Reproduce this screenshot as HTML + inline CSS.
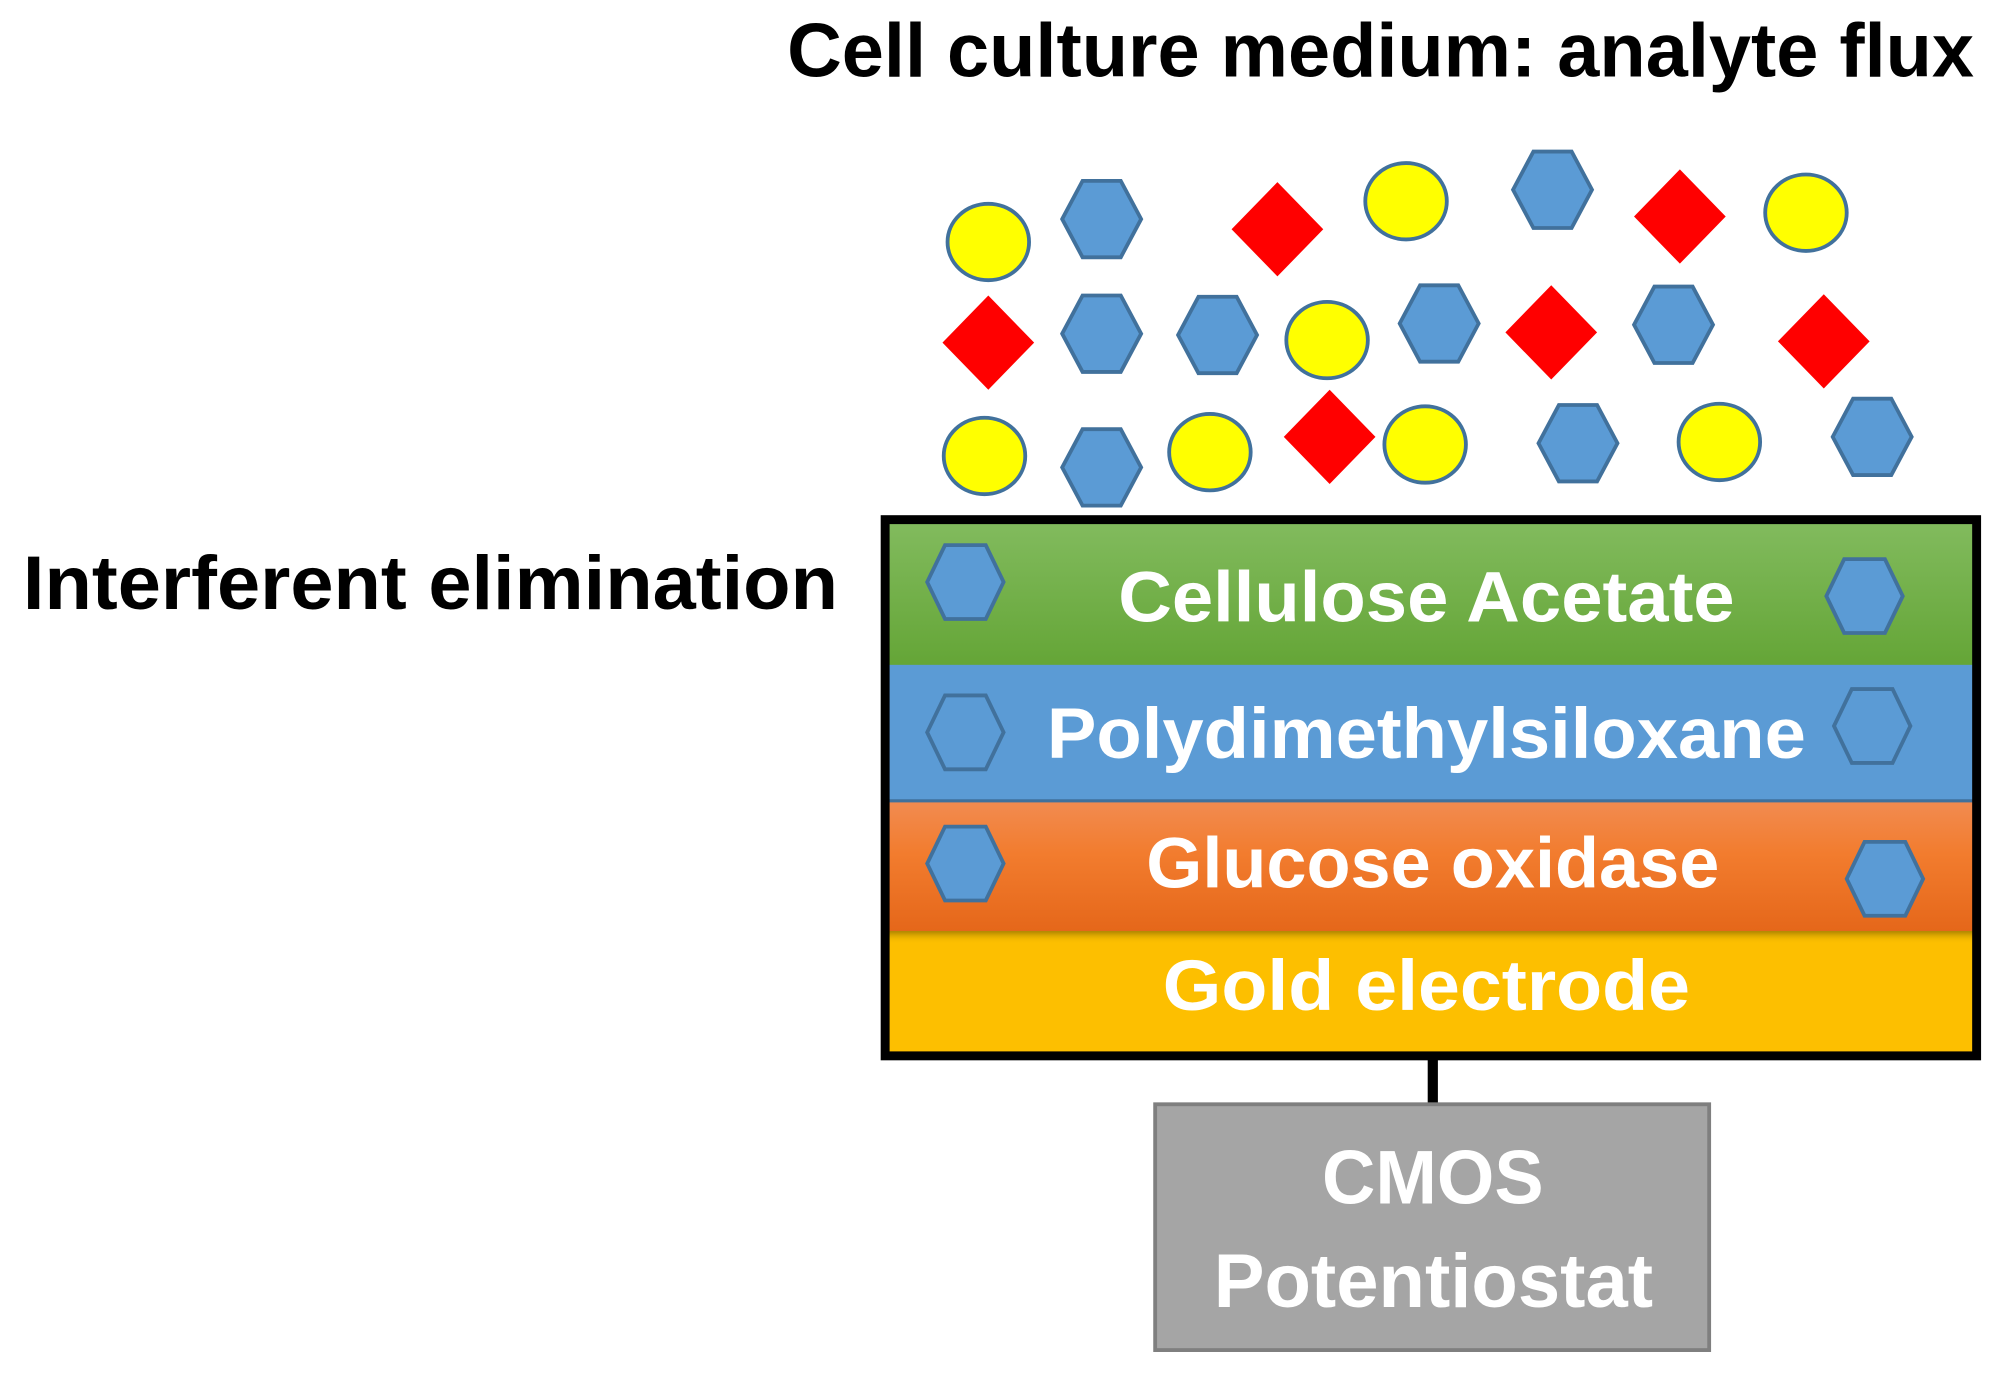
<!DOCTYPE html>
<html><head><meta charset="utf-8"><style>
html,body{margin:0;padding:0;background:#fff;}
svg{display:block;}
text{font-family:"Liberation Sans",sans-serif;font-weight:bold;}
</style></head><body>
<svg width="1997" height="1373" viewBox="0 0 1568 1078" preserveAspectRatio="none" xmlns="http://www.w3.org/2000/svg">
<defs>
<linearGradient id="g" x1="0" y1="0" x2="0" y2="1"><stop offset="0" stop-color="#82bb5e"/><stop offset="1" stop-color="#64a536"/></linearGradient>
<linearGradient id="o" x1="0" y1="0" x2="0" y2="1"><stop offset="0" stop-color="#f28b50"/><stop offset="0.4" stop-color="#f27c2e"/><stop offset="1" stop-color="#e5671a"/></linearGradient>
<linearGradient id="sh" x1="0" y1="0" x2="0" y2="1"><stop offset="0" stop-color="#8a6a00" stop-opacity="0.7"/><stop offset="1" stop-color="#fdbf00" stop-opacity="0"/></linearGradient>
<polygon id="hx" points="-31,0 -15,-30 15,-30 31,0 15,30 -15,30" stroke="#41719c" stroke-width="3"/>
<polygon id="hl" points="-30,0 -16,-29 16,-29 30,0 16,29 -16,29" stroke="#41719c" stroke-width="3"/>
<ellipse id="el" rx="32" ry="30" fill="#ffff00" stroke="#41719c" stroke-width="3"/>
<polygon id="dm" points="0,-37 36,0 0,37 -36,0" fill="#ff0000"/>
</defs>
<text x="618" y="60" font-size="60" textLength="932" lengthAdjust="spacingAndGlyphs" fill="#000">Cell culture medium: analyte flux</text>
<text x="18" y="478" font-size="60" textLength="640" lengthAdjust="spacingAndGlyphs" fill="#000">Interferent elimination</text>

<use href="#el" x="776" y="190"/><use href="#hx" x="865" y="172" fill="#5b9bd5"/><use href="#dm" x="1003" y="180"/>
<use href="#el" x="1104" y="158"/><use href="#hx" x="1219" y="149" fill="#5b9bd5"/><use href="#dm" x="1319" y="170"/><use href="#el" x="1418" y="167"/>
<use href="#dm" x="776" y="269"/><use href="#hx" x="865" y="262" fill="#5b9bd5"/><use href="#hx" x="956" y="263" fill="#5b9bd5"/>
<use href="#el" x="1042" y="267"/><use href="#hx" x="1130" y="254" fill="#5b9bd5"/><use href="#dm" x="1218" y="261"/>
<use href="#hx" x="1314" y="255" fill="#5b9bd5"/><use href="#dm" x="1432" y="268"/>
<use href="#el" x="773" y="358"/><use href="#hx" x="865" y="367" fill="#5b9bd5"/><use href="#el" x="950" y="355"/>
<use href="#dm" x="1044" y="343"/><use href="#el" x="1119" y="349"/><use href="#hx" x="1239" y="348" fill="#5b9bd5"/>
<use href="#el" x="1350" y="347"/><use href="#hx" x="1470" y="343" fill="#5b9bd5"/>

<rect x="696" y="409" width="855" height="115" fill="url(#g)"/>
<rect x="696" y="522" width="855" height="108" fill="#5b9bd5"/>
<line x1="696" y1="629" x2="1551" y2="629" stroke="#41719c" stroke-width="3"/>
<rect x="696" y="630" width="855" height="101" fill="url(#o)"/>
<rect x="696" y="731" width="855" height="97" fill="#fdbf00"/>
<rect x="696" y="731" width="855" height="10" fill="url(#sh)"/>
<rect x="695" y="408" width="857" height="421" fill="none" stroke="#000" stroke-width="7"/>

<use href="#hl" x="758" y="457" fill="#5b9bd5"/><use href="#hl" x="1464" y="468" fill="#5b9bd5"/>
<use href="#hl" x="758" y="575" fill="none"/><use href="#hl" x="1470" y="570" fill="none"/>
<use href="#hl" x="758" y="678" fill="#5b9bd5"/><use href="#hl" x="1480" y="690" fill="#5b9bd5"/>

<text x="878" y="488" font-size="56" textLength="484" lengthAdjust="spacingAndGlyphs" fill="#fff">Cellulose Acetate</text>
<text x="822" y="595" font-size="56" textLength="596" lengthAdjust="spacingAndGlyphs" fill="#fff">Polydimethylsiloxane</text>
<text x="900" y="697" font-size="56" textLength="450" lengthAdjust="spacingAndGlyphs" fill="#fff">Glucose oxidase</text>
<text x="913" y="793" font-size="56" textLength="414" lengthAdjust="spacingAndGlyphs" fill="#fff">Gold electrode</text>

<rect x="1121" y="830" width="8" height="37" fill="#000"/>
<rect x="907" y="867" width="435" height="193" fill="#a5a5a5" stroke="#7f7f7f" stroke-width="3"/>
<text x="1038" y="945" font-size="60" textLength="174" lengthAdjust="spacingAndGlyphs" fill="#fff">CMOS</text>
<text x="953" y="1026" font-size="60" textLength="345" lengthAdjust="spacingAndGlyphs" fill="#fff">Potentiostat</text>
</svg>
</body></html>
